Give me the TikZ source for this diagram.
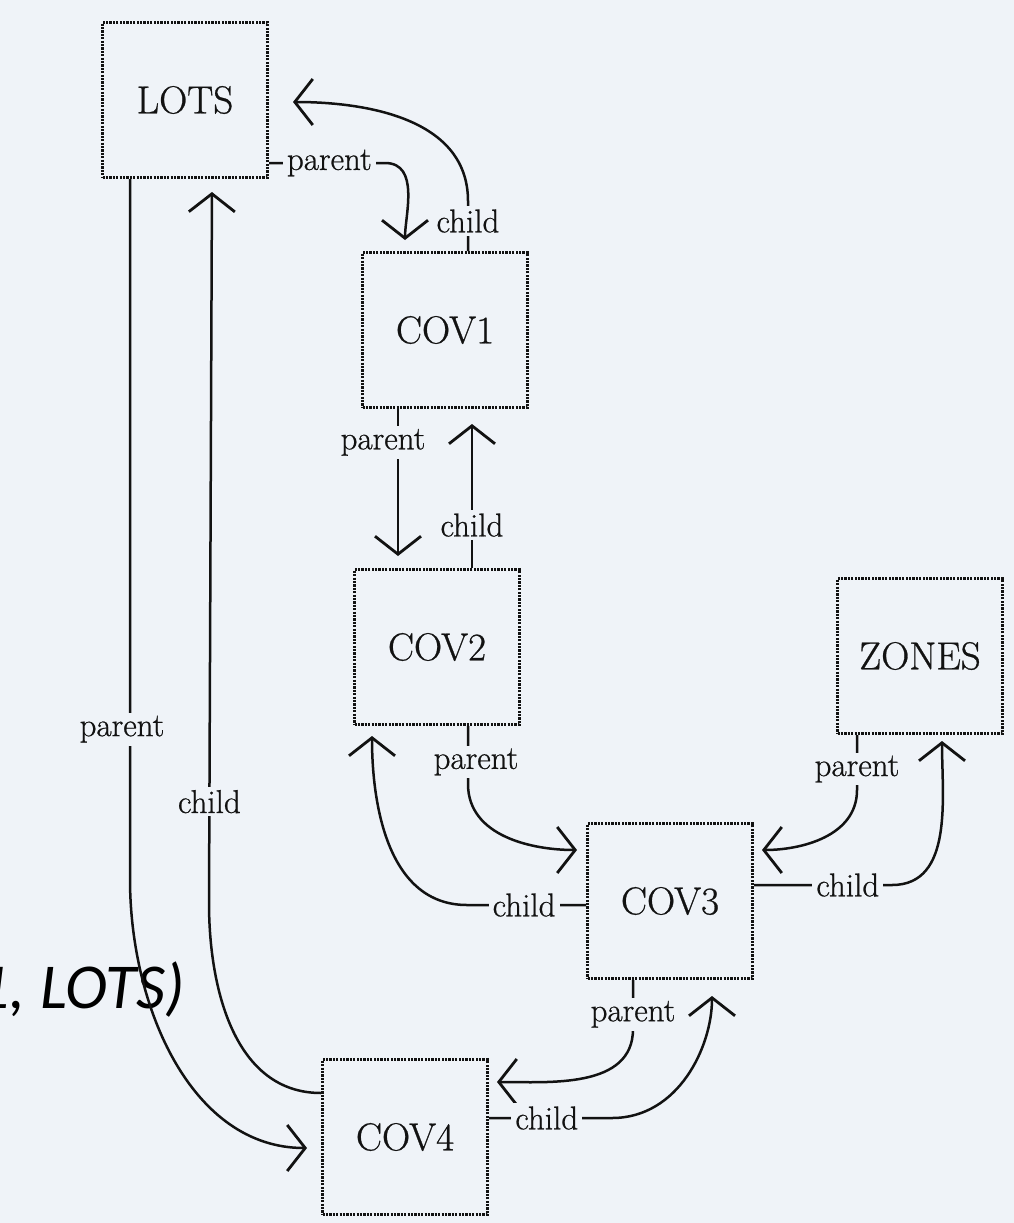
\documentclass[tikz,border=0pt]{standalone}
\usepackage{fontspec}
\newfontfamily\notefont{Carlito}
\newfontfamily\scanfont[FakeBold=0.7]{Latin Modern Roman}
\usepackage{tikz}
\usetikzlibrary{arrows.meta, calc}
\definecolor{paper}{RGB}{239, 243, 248}
\definecolor{ink}{RGB}{18, 18, 18}

\begin{document}
\begin{tikzpicture}[x=1pt, y=1pt,
  entity/.style={draw=ink, line width=3pt, dash pattern=on 2.2pt off 1.2pt, minimum width=165pt, minimum height=155pt, inner sep=0pt, text=ink, font=\scanfont\fontsize{39}{44}\selectfont},
  role/.style={fill=paper, inner xsep=4pt, inner ysep=3pt, text=ink, font=\scanfont\fontsize{33}{36}\selectfont},
  link/.style={draw=ink, line width=2.5pt, -{Straight Barb[length=18pt, width=46pt, line width=2.8pt]}}]

  % page
  \fill[paper] (0, 0) rectangle (1014, -1223);
  \useasboundingbox (0, 0) rectangle (1014, -1223);

  % slide caption, cut at the left edge
  \node[anchor=base east, inner sep=0pt, font=\notefont\itshape\fontsize{64}{70}\selectfont] (caption) at (185, -1008) {1, LOTS)};

  % Coverages
  \node[entity] (lots)  at (185, -100)  {LOTS};
  \node[entity] (cov1)  at (445, -330)  {COV1};
  \node[entity] (cov2)  at (437, -647)  {COV2};
  \node[entity] (zones) at (920, -656)  {ZONES};
  \node[entity] (cov3)  at (670, -901)  {COV3};
  \node[entity] (cov4)  at (405, -1137) {COV4};

  % LOTS - COV1
  \draw[link, shorten >=11pt] ($(lots.east)+(0,-63)$) -- node[role, pos=0.52]{parent} ++(116, 0) to[out=0, in=90] ($(cov1.north)+(-40,0)$);
  \draw[link, shorten >=24pt] ($(cov1.north)+(23,0)$) -- node[role, pos=0.6]{child} ++(0, 50) to[out=90, in=0] ($(lots.east)+(0,-2)$);

  % COV1 - COV2
  \draw[link, shorten >=12pt] ($(cov1.south)+(-47,0)$) -- node[role, pos=0.21, xshift=-15pt]{parent} ($(cov2.north)+(-39,0)$);
  \draw[link, shorten >=15pt] ($(cov2.north)+(35,0)$) -- node[role, pos=0.27]{child} ($(cov1.south)+(27,0)$);

  % LOTS - COV4
  \draw[link, shorten >=14pt] ($(lots.south)+(-55,0)$) -- node[role, pos=0.786, xshift=-8pt]{parent} ++(0, -700) to[out=-90, in=180] ($(cov4.west)+(0,-11)$);
  \draw[link, shorten >=13pt] ($(cov4.west)+(0,44)$) to[out=180, in=-90] ++(-112, 190) -- node[role, pos=0.14]{child} ($(lots.south)+(27,0)$);

  % COV2 - COV3
  \draw[link, shorten >=9pt] ($(cov2.south)+(31,0)$) -- node[role, pos=0.62, xshift=8pt]{parent} ++(0, -58) to[out=-90, in=180] ($(cov3.west)+(0,51)$);
  \draw[link, shorten >=10pt] ($(cov3.west)+(0,-4)$) -- node[role, pos=0.52]{child} ++(-119, 0) to[out=180, in=-90] ($(cov2.south)+(-65,0)$);

  % ZONES - COV3
  \draw[link, shorten >=8pt] ($(zones.south)+(-63,0)$) -- node[role, pos=0.62]{parent} ++(0, -55) to[out=-90, in=0] ($(cov3.east)+(0,51)$);
  \draw[link, shorten >=6pt] ($(cov3.east)+(0,16)$) -- node[role, pos=0.68]{child} ++(138, 0) to[out=0, in=-90] ($(zones.south)+(22,0)$);

  % COV3 - COV4
  \draw[link, shorten >=8pt] ($(cov3.south)+(-37,0)$) -- node[role, pos=0.7]{parent} ++(0, -49) to[out=-90, in=0] ($(cov4.east)+(0,55)$);
  \draw[link, shorten >=16pt] ($(cov4.east)+(0,19)$) -- node[role, pos=0.47]{child} ++(123, 0) to[out=0, in=-90] ($(cov3.south)+(42,0)$);
\end{tikzpicture}
\end{document}
